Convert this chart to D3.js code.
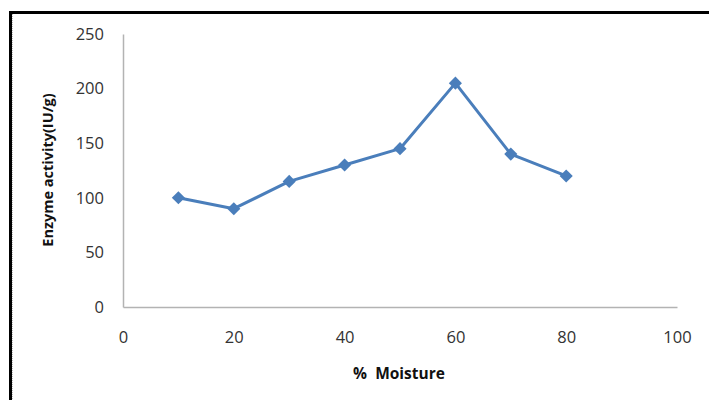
<!DOCTYPE html>
<html>
<head>
<meta charset="utf-8">
<script src="https://cdn.jsdelivr.net/npm/d3@7"></script>
<style>
  html, body { margin: 0; padding: 0; background: #fff; }
  svg { display: block; }
</style>
</head>
<body>
<svg id="chart" width="709" height="400"></svg>
<script>
// Enzyme activity measured at different moisture levels
const moisture = [10, 20, 30, 40, 50, 60, 70, 80];
const activity = [100, 90, 115, 130, 145, 205, 140, 120];
const xTicks = [0, 20, 40, 60, 80, 100];
const yTicks = [0, 50, 100, 150, 200, 250];

const svg = d3.select("#chart");
const font = "'Open Sans', 'DejaVu Sans', sans-serif";

// frame around the figure
svg.append("rect").attr("x", 0).attr("y", 0).attr("width", 709).attr("height", 400).attr("fill", "#fff");
svg.append("line").attr("x1", 9).attr("x2", 709).attr("y1", 12.5).attr("y2", 12.5)
  .attr("stroke", "#000").attr("stroke-width", 3);
svg.append("line").attr("x1", 10.5).attr("x2", 10.5).attr("y1", 11).attr("y2", 400)
  .attr("stroke", "#000").attr("stroke-width", 3);
svg.append("line").attr("x1", 12.5).attr("x2", 12.5).attr("y1", 14).attr("y2", 400)
  .attr("stroke", "#bbb").attr("stroke-width", 1).attr("stroke-dasharray", "1,1");

const x = d3.scaleLinear().domain([0, 100]).range([123, 677]);
const y = d3.scaleLinear().domain([0, 250]).range([307, 34]);

// axes
const gx = svg.append("g").attr("transform", `translate(0,${y(0)})`)
  .call(d3.axisBottom(x).tickValues(xTicks).tickSize(0).tickPadding(24));
const gy = svg.append("g").attr("transform", `translate(${x(0)},0)`)
  .call(d3.axisLeft(y).tickValues(yTicks).tickSize(0).tickPadding(19));
[gx, gy].forEach(g => {
  g.select(".domain").attr("stroke", "#b3b3b3").attr("stroke-width", 1.5);
  g.selectAll("text").attr("font-family", font).attr("font-size", 16.5).attr("fill", "#333");
});

// line series
const pts = moisture.map((m, i) => [m, activity[i]]);
svg.append("path").datum(pts)
  .attr("fill", "none").attr("stroke", "#4a7ebb").attr("stroke-width", 3)
  .attr("stroke-linejoin", "round")
  .attr("d", d3.line().x(d => x(d[0])).y(d => y(d[1])));

// diamond markers
svg.selectAll("path.marker").data(pts).join("path")
  .attr("class", "marker")
  .attr("transform", d => `translate(${x(d[0])},${y(d[1])})`)
  .attr("d", d3.symbol().type(d3.symbolDiamond2).size(110))
  .attr("fill", "#4a7ebb");

// axis titles
svg.append("text").attr("x", 399).attr("y", 379).attr("text-anchor", "middle")
  .attr("font-family", font).attr("font-size", 15.5).attr("font-weight", "bold").attr("fill", "#111")
  .attr("xml:space", "preserve").text("%  Moisture");
svg.append("text").attr("transform", "translate(53,170) rotate(-90)").attr("text-anchor", "middle")
  .attr("font-family", font).attr("font-size", 14.5).attr("font-weight", "bold").attr("fill", "#111")
  .text("Enzyme activity(IU/g)");
</script>
</body>
</html>
